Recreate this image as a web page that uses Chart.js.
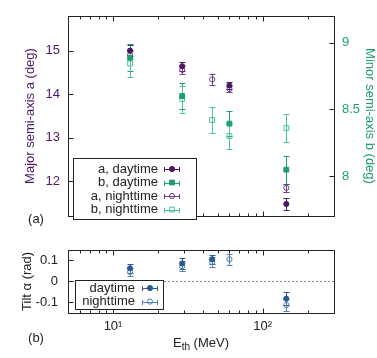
<!DOCTYPE html>
<html>
<head>
<meta charset="utf-8">
<script src="https://cdn.jsdelivr.net/npm/chart.js@4/dist/chart.umd.min.js"></script>
<style>
  html, body { margin: 0; padding: 0; background: #fff; }
  #wrap { position: relative; width: 377px; height: 358px; }
  #wrap canvas { position: absolute; left: 0; }
</style>
</head>
<body>
<div id="wrap">
  <canvas id="panelA" width="377" height="232" style="top:0"></canvas>
  <canvas id="panelB" width="377" height="126" style="top:232px"></canvas>
</div>
<script>
// threshold energies (MeV) per series
const aDayEnergy = [13, 29, 60, 144];
const aDayValue = [15.0, 14.64, 14.2, 11.48];
const aDayError = [0.12, 0.1, 0.08, 0.14];

const aNightEnergy = [13, 29, 46, 60, 144];
const aNightValue = [14.9, 14.56, 14.34, 14.12, 11.85];
const aNightError = [0.1, 0.1, 0.12, 0.08, 0.1];

const bDayEnergy = [13, 29, 60, 144];
const bDayValue = [8.886, 8.6, 8.393, 8.048];
const bDayError = [0.1, 0.1, 0.095, 0.104];

const bNightEnergy = [13, 29, 46, 60, 144];
const bNightValue = [8.843, 8.576, 8.42, 8.3, 8.36];
const bNightError = [0.1, 0.1, 0.1, 0.1, 0.104];

const tiltDayEnergy = [13, 29, 46, 144];
const tiltDayValue = [0.062, 0.085, 0.105, -0.082];
const tiltDayError = [0.022, 0.024, 0.022, 0.03];

const tiltNightEnergy = [13, 29, 46, 60, 144];
const tiltNightValue = [0.045, 0.072, 0.092, 0.105, -0.112];
const tiltNightError = [0.02, 0.024, 0.022, 0.025, 0.03];

const aTicks = [12, 13, 14, 15];
const bTicks = [8, 8.5, 9];
const tiltTicks = [-0.1, 0, 0.1];
const xMajorTicks = [10, 100];
const xMinorTicks = [6, 7, 8, 9, 20, 30, 40, 50, 60, 70, 80, 90, 200, 300];
const xTickLabels = { 10: '10\u00b9', 100: '10\u00b2' };

const FONT = "'Liberation Sans', Arial, sans-serif";
const textColor = '#222';
const purpleDay = '#4e1866';
const purpleNight = '#6f3f8a';
const greenDay = '#1b9e77';
const greenNight = '#4cc39d';
const blueDay = '#2c5a8f';
const blueNight = '#5580b6';

Chart.defaults.font.family = FONT;
Chart.defaults.font.size = 13;
Chart.defaults.color = textColor;

function points(xs, ys, es) {
  return xs.map((x, i) => ({ x, y: ys[i], e: es[i] }));
}

function series(label, xs, ys, es, color, style, filled, axis) {
  return {
    label,
    data: points(xs, ys, es),
    yAxisID: axis,
    pointStyle: style,
    pointRadius: style === 'rect' ? 3.4 : 2.6,
    borderWidth: 1,
    borderColor: color,
    backgroundColor: filled ? color : 'rgba(0,0,0,0)'
  };
}

const errorBars = {
  id: 'errorBars',
  beforeDatasetsDraw(chart) {
    const { ctx, chartArea } = chart;
    ctx.save();
    ctx.beginPath();
    ctx.rect(chartArea.left, chartArea.top, chartArea.right - chartArea.left, chartArea.bottom - chartArea.top);
    ctx.clip();
    ctx.lineWidth = 1;
    chart.data.datasets.forEach((ds, i) => {
      const meta = chart.getDatasetMeta(i);
      const scale = chart.scales[meta.yAxisID];
      ctx.strokeStyle = ds.borderColor;
      ds.data.forEach((p, j) => {
        const x = Math.round(meta.data[j].x) + 0.5;
        const y1 = Math.round(scale.getPixelForValue(p.y + p.e)) + 0.5;
        const y2 = Math.round(scale.getPixelForValue(p.y - p.e)) + 0.5;
        ctx.beginPath();
        ctx.moveTo(x, y1); ctx.lineTo(x, y2);
        ctx.moveTo(x - 3, y1); ctx.lineTo(x + 3, y1);
        ctx.moveTo(x - 3, y2); ctx.lineTo(x + 3, y2);
        ctx.stroke();
      });
    });
    ctx.restore();
  }
};

const framePlugin = {
  id: 'frame',
  beforeDatasetsDraw(chart, args, opts) {
    if (!opts.zeroLine) return;
    const { ctx, chartArea: { left, right } } = chart;
    const y = Math.round(chart.scales.y.getPixelForValue(0)) + 0.5;
    ctx.save();
    ctx.strokeStyle = '#8a8a8a';
    ctx.lineWidth = 1;
    ctx.setLineDash([2, 2]);
    ctx.beginPath();
    ctx.moveTo(left, y); ctx.lineTo(right, y);
    ctx.stroke();
    ctx.restore();
  },
  afterDraw(chart, args, opts) {
    const { ctx, chartArea: { left, right, top, bottom } } = chart;
    const L = Math.round(left) + 0.5, R = Math.round(right) + 0.5;
    const T = Math.round(top) + 0.5, B = Math.round(bottom) + 0.5;
    ctx.save();
    ctx.strokeStyle = textColor;
    ctx.lineWidth = 1;
    ctx.beginPath();
    const xs = chart.scales.x;
    const xTick = (v, len) => {
      const px = Math.round(xs.getPixelForValue(v)) + 0.5;
      ctx.moveTo(px, T); ctx.lineTo(px, T + len);
      ctx.moveTo(px, B); ctx.lineTo(px, B - len);
    };
    xMajorTicks.forEach((v) => xTick(v, 5));
    xMinorTicks.forEach((v) => xTick(v, 3));
    opts.yAxes.forEach(({ id, side }) => {
      const s = chart.scales[id];
      s.ticks.forEach((t) => {
        const py = Math.round(s.getPixelForValue(t.value)) + 0.5;
        if (side === 'left') { ctx.moveTo(L, py); ctx.lineTo(L + 5, py); }
        else { ctx.moveTo(R, py); ctx.lineTo(R - 5, py); }
      });
    });
    ctx.stroke();
    ctx.strokeRect(L, T, R - L, B - T);

    // panel tag
    ctx.fillStyle = textColor;
    ctx.font = `13px ${FONT}`;
    ctx.textAlign = 'center';
    ctx.textBaseline = 'middle';
    ctx.fillText(opts.tag.text, opts.tag.x, opts.tag.y);

    if (opts.xTitle) {
      const { x, y } = opts.xTitle;
      const parts = [['E', 13, 0], ['th', 10, 4], [' (MeV)', 13, 0]];
      let w = 0;
      parts.forEach(([s, size]) => { ctx.font = `${size}px ${FONT}`; w += ctx.measureText(s).width; });
      let cx = x - w / 2;
      ctx.textAlign = 'left';
      parts.forEach(([s, size, dy]) => {
        ctx.font = `${size}px ${FONT}`;
        ctx.fillText(s, cx, y + dy);
        cx += ctx.measureText(s).width;
      });
    }
    ctx.restore();
  }
};

const boxLegend = {
  id: 'boxLegend',
  afterDraw(chart, args, opts) {
    const { ctx } = chart;
    ctx.save();
    ctx.fillStyle = '#fff';
    ctx.fillRect(opts.x, opts.y, opts.w, opts.h);
    ctx.strokeStyle = textColor;
    ctx.lineWidth = 1;
    ctx.strokeRect(opts.x + 0.5, opts.y + 0.5, opts.w, opts.h);
    ctx.font = `13px ${FONT}`;
    ctx.textAlign = 'right';
    ctx.textBaseline = 'middle';
    chart.data.datasets.forEach((ds, i) => {
      const y = opts.y + opts.first + i * opts.rowH;
      ctx.fillStyle = textColor;
      ctx.fillText(ds.label, opts.textRight, y);
      const cx = opts.sample, py = Math.round(y) + 0.5;
      ctx.strokeStyle = ds.borderColor;
      ctx.beginPath();
      ctx.moveTo(cx - 7, py); ctx.lineTo(cx + 7, py);
      ctx.moveTo(cx - 7.5, py - 2.5); ctx.lineTo(cx - 7.5, py + 2.5);
      ctx.moveTo(cx + 7.5, py - 2.5); ctx.lineTo(cx + 7.5, py + 2.5);
      ctx.stroke();
      ctx.fillStyle = ds.backgroundColor;
      Chart.helpers.drawPoint(ctx, {
        pointStyle: ds.pointStyle, radius: ds.pointRadius, rotation: 0, borderWidth: 1
      }, cx, y);
    });
    ctx.restore();
  }
};

function fixedWidth(w) {
  return (scale) => { scale.width = w; };
}

new Chart(document.getElementById('panelA'), {
  type: 'scatter',
  data: {
    datasets: [
      series('a, daytime', aDayEnergy, aDayValue, aDayError, purpleDay, 'circle', true, 'y'),
      series('b, daytime', bDayEnergy, bDayValue, bDayError, greenDay, 'rect', true, 'y2'),
      series('a, nighttime', aNightEnergy, aNightValue, aNightError, purpleNight, 'circle', false, 'y'),
      series('b, nighttime', bNightEnergy, bNightValue, bNightError, greenNight, 'rect', false, 'y2')
    ]
  },
  options: {
    responsive: false,
    animation: false,
    layout: { padding: { top: 11, bottom: 11, left: 0, right: 0 } },
    scales: {
      x: { type: 'logarithmic', min: 5, max: 300, display: false },
      y: {
        position: 'left', min: 11.2, max: 15.8,
        grid: { display: false, drawTicks: false }, border: { display: false },
        afterBuildTicks: (s) => { s.ticks = aTicks.map((value) => ({ value })); },
        afterFit: fixedWidth(68),
        ticks: { color: purpleDay, padding: 8, callback: (v) => String(v) },
        title: { display: true, text: 'Major semi-axis a (deg)', color: purpleDay, padding: { top: 23, bottom: 0 } }
      },
      y2: {
        position: 'right', min: 7.7, max: 9.2,
        grid: { display: false, drawTicks: false }, border: { display: false },
        afterBuildTicks: (s) => { s.ticks = bTicks.map((value) => ({ value })); },
        afterFit: fixedWidth(43),
        ticks: { color: greenDay, padding: 8, callback: (v) => String(v) },
        title: { display: true, text: 'Minor semi-axis b (deg)', color: greenDay, padding: { top: 0, bottom: 0 } }
      }
    },
    plugins: {
      legend: { display: false },
      tooltip: { enabled: false },
      frame: {
        yAxes: [{ id: 'y', side: 'left' }, { id: 'y2', side: 'right' }],
        tag: { text: '(a)', x: 36, y: 219 }
      },
      boxLegend: { x: 73, y: 158, w: 123, h: 61, first: 11, rowH: 13.5, textRight: 158, sample: 172 }
    }
  },
  plugins: [errorBars, framePlugin, boxLegend]
});

new Chart(document.getElementById('panelB'), {
  type: 'scatter',
  data: {
    datasets: [
      series('daytime', tiltDayEnergy, tiltDayValue, tiltDayError, blueDay, 'circle', true, 'y'),
      series('nighttime', tiltNightEnergy, tiltNightValue, tiltNightError, blueNight, 'circle', false, 'y')
    ]
  },
  options: {
    responsive: false,
    animation: false,
    layout: { padding: { top: 7, bottom: 0, left: 0, right: 43 } },
    scales: {
      x: {
        type: 'logarithmic', min: 5, max: 300,
        grid: { display: false, drawTicks: false }, border: { display: false },
        afterBuildTicks: (s) => { s.ticks = xMajorTicks.map((value) => ({ value })); },
        afterFit: (s) => { s.height = 45; },
        ticks: { padding: 6, maxRotation: 0, autoSkip: false, callback: (v) => xTickLabels[v] || '' }
      },
      y: {
        position: 'left', min: -0.15, max: 0.15,
        grid: { display: false, drawTicks: false }, border: { display: false },
        afterBuildTicks: (s) => { s.ticks = tiltTicks.map((value) => ({ value })); },
        afterFit: fixedWidth(68),
        ticks: { padding: 10, callback: (v) => String(v) },
        title: { display: true, text: 'Tilt \u03b1 (rad)', padding: { top: 20, bottom: 0 } }
      }
    },
    plugins: {
      legend: { display: false },
      tooltip: { enabled: false },
      frame: {
        zeroLine: true,
        yAxes: [{ id: 'y', side: 'left' }],
        tag: { text: '(b)', x: 36, y: 106 },
        xTitle: { x: 201, y: 111 }
      },
      boxLegend: { x: 75, y: 48, w: 88, h: 29, first: 8, rowH: 13.6, textRight: 135, sample: 150 }
    }
  },
  plugins: [errorBars, framePlugin, boxLegend]
});
</script>
</body>
</html>
